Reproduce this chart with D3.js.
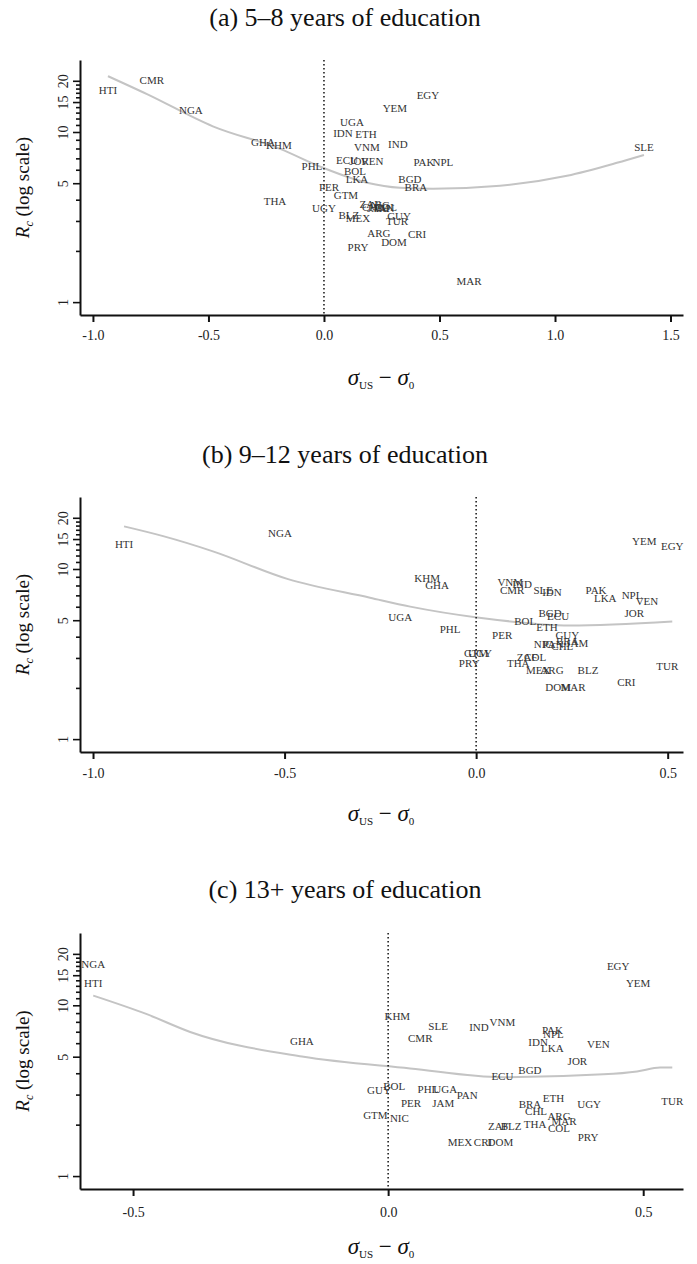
<!DOCTYPE html>
<html><head><meta charset="utf-8">
<script src="https://cdn.jsdelivr.net/npm/d3@7"></script>
<style>body{margin:0;background:#fff}</style>
</head><body>
<svg id="chart" width="697" height="1264"></svg>
<script>
// ---------- DATA ----------
const titles = ["(a) 5\u20138 years of education", "(b) 9\u201312 years of education", "(c) 13+ years of education"];

const codesA = ["HTI","CMR","NGA","GHA","KHM","THA","PHL","PER","GTM","UGY","BLZ","MEX","ARG","PRY","UGA","IDN","ETH","VNM","ECU","JOR","VEN","BOL","LKA","YEM","EGY","IND","PAK","NPL","BGD","BRA","SLE","MAR","CRI","DOM","GUY","TUR","ZAF","CHL","NIC","PAN","COL","JAM"];
const xA = [-0.935,-0.745,-0.576,-0.264,-0.195,-0.212,-0.052,0.022,0.095,0.0,0.108,0.147,0.238,0.147,0.121,0.082,0.182,0.186,0.100,0.152,0.208,0.134,0.143,0.307,0.450,0.320,0.433,0.515,0.372,0.398,1.385,0.628,0.403,0.303,0.325,0.316,0.199,0.212,0.242,0.260,0.268,0.234];
const yA = [17.6,20.1,13.4,8.74,8.40,3.90,6.32,4.77,4.28,3.55,3.23,3.10,2.53,2.10,11.4,9.87,9.73,8.17,6.86,6.77,6.77,5.91,5.31,13.8,16.5,8.51,6.68,6.68,5.31,4.77,8.17,1.33,2.50,2.24,3.18,2.98,3.79,3.64,3.74,3.59,3.64,3.59];
const curveXA = [-0.935,-0.766,-0.481,-0.190,-0.004,0.186,0.329,0.472,0.762,1.052,1.268,1.385];
const curveYA = [21.3,16.7,10.8,7.96,6.16,5.03,4.70,4.64,4.83,5.53,6.59,7.33];

const codesB = ["HTI","NGA","UGA","KHM","GHA","PHL","VNM","IND","CMR","SLE","IDN","PAK","LKA","NPL","VEN","YEM","EGY","JOR","BGD","ECU","BOL","ETH","PER","GUY","NIC","PAN","CHL","BRA","JAM","GTM","UGY","PRY","ZAF","COL","THA","MEX","ARG","BLZ","TUR","DOM","MAR","CRI"];
const xB = [-0.919,-0.512,-0.198,-0.128,-0.102,-0.068,0.089,0.120,0.094,0.175,0.198,0.313,0.337,0.407,0.446,0.439,0.512,0.413,0.193,0.214,0.128,0.185,0.068,0.238,0.175,0.201,0.225,0.238,0.264,0.0,0.010,-0.018,0.133,0.154,0.110,0.162,0.198,0.292,0.499,0.214,0.253,0.392];
const yB = [14.0,16.2,5.19,8.87,8.07,4.42,8.40,8.18,7.55,7.55,7.35,7.55,6.78,7.06,6.43,14.5,13.6,5.48,5.48,5.26,4.92,4.54,4.08,4.08,3.61,3.61,3.52,3.76,3.66,3.20,3.20,2.80,3.04,3.04,2.80,2.55,2.55,2.55,2.69,2.03,2.01,2.17];
const curveXB = [-0.919,-0.817,-0.687,-0.493,-0.277,-0.172,0.003,0.245,0.512];
const curveYB = [17.8,15.6,12.7,8.75,6.78,6.01,5.19,4.66,4.92];

const codesC = ["NGA","HTI","GHA","KHM","GUY","BOL","GTM","NIC","EGY","YEM","SLE","CMR","IND","VNM","PAK","NPL","IDN","LKA","VEN","JOR","BGD","ECU","PHL","UGA","PAN","PER","JAM","ETH","BRA","CHL","UGY","TUR","ARG","MAR","THA","COL","ZAF","BLZ","PRY","MEX","CRI","DOM"];
const xC = [-0.578,-0.578,-0.169,0.018,-0.018,0.012,-0.025,0.022,0.451,0.490,0.098,0.063,0.178,0.224,0.322,0.324,0.294,0.322,0.412,0.371,0.278,0.224,0.078,0.112,0.155,0.045,0.108,0.324,0.278,0.290,0.394,0.557,0.335,0.345,0.288,0.335,0.216,0.241,0.392,0.141,0.186,0.220];
const yC = [17.5,13.4,6.19,8.64,3.18,3.36,2.28,2.19,17.0,13.4,7.56,6.45,7.46,7.97,7.17,6.80,6.11,5.64,5.95,4.68,4.15,3.84,3.23,3.23,2.98,2.68,2.68,2.86,2.64,2.41,2.64,2.75,2.25,2.11,2.02,1.92,1.95,1.95,1.70,1.57,1.57,1.57];
const curveXC = [-0.578,-0.473,-0.388,-0.169,0.043,0.224,0.422,0.488,0.533,0.557];
const curveYC = [11.4,8.87,6.98,5.01,4.27,3.79,3.94,4.10,4.32,4.32];

const xTicksA = [-1.0,-0.5,0.0,0.5,1.0,1.5];
const xTicksB = [-1.0,-0.5,0.0,0.5];
const xTicksC = [-0.5,0.0,0.5];
const yTicksMajor = [1,5,10,15,20];
const yTicksMinor = [2,3,4,6,7,8,9,11,12,13,14,16,17,18,19];

// ---------- LAYOUT ----------
const panels = [
  {title: titles[0], codes: codesA, xs: xA, ys: yA, cx: curveXA, cy: curveYA, xt: xTicksA, xlim: [-1.056, 1.554], top: 60, bottom: 315, titleY: 26, xtitleY: 385, pad: 8},
  {title: titles[1], codes: codesB, xs: xB, ys: yB, cx: curveXB, cy: curveYB, xt: xTicksB, xlim: [-1.034, 0.540], top: 497, bottom: 752, titleY: 463, xtitleY: 821, pad: 9},
  {title: titles[2], codes: codesC, xs: xC, ys: yC, cx: curveXC, cy: curveYC, xt: xTicksC, xlim: [-0.604, 0.578], top: 933, bottom: 1189, titleY: 898, xtitleY: 1254, pad: 11}
];
const left = 80, right = 683;
const serif = "'Liberation Serif','Times New Roman',serif";
const svg = d3.select("#chart");

panels.forEach(p => {
  const g = svg.append("g");
  const x = d3.scaleLinear().domain(p.xlim).range([left, right]);
  const y = d3.scaleLog().domain([0.84, 26.5]).range([p.bottom, p.top]);

  // title
  g.append("text").attr("x", 345).attr("y", p.titleY)
    .attr("text-anchor", "middle").attr("font-family", serif)
    .attr("font-size", 26).attr("fill", "#111").text(p.title);

  // smooth curve
  const pts = p.cx.map((v, i) => [v, p.cy[i]]);
  g.append("path").datum(pts)
    .attr("d", d3.line().x(d => x(d[0])).y(d => y(d[1])).curve(d3.curveMonotoneX))
    .attr("fill", "none").attr("stroke", "#c4c4c4").attr("stroke-width", 2);

  // dotted zero line
  g.append("line").attr("x1", x(0)).attr("x2", x(0))
    .attr("y1", p.top).attr("y2", p.bottom)
    .attr("stroke", "#000").attr("stroke-width", 1.4).attr("stroke-dasharray", "1.4,2.6");

  // country labels
  g.append("g").selectAll("text").data(p.codes).join("text")
    .attr("x", (d, i) => x(p.xs[i])).attr("y", (d, i) => y(p.ys[i]))
    .attr("dy", "0.35em").attr("text-anchor", "middle")
    .attr("font-family", serif).attr("font-size", 11).attr("fill", "#333")
    .text(d => d);

  // x axis
  const xa = g.append("g").attr("transform", `translate(0,${p.bottom})`)
    .call(d3.axisBottom(x).tickValues(p.xt).tickFormat(d => d.toFixed(1)).tickSize(7).tickSizeOuter(0).tickPadding(p.pad));
  xa.select(".domain").attr("stroke-width", 2).attr("stroke", "#111");
  xa.selectAll(".tick line").attr("stroke-width", 2).attr("stroke", "#111");
  xa.selectAll(".tick text").attr("font-family", serif).attr("font-size", 14).attr("fill", "#222");

  // y axis minor
  const ym = g.append("g").attr("transform", `translate(${left},0)`)
    .call(d3.axisLeft(y).tickValues(yTicksMinor).tickFormat("").tickSize(4).tickSizeOuter(0));
  ym.select(".domain").remove();
  ym.selectAll(".tick line").attr("stroke-width", 1.6).attr("stroke", "#111");
  // y axis major
  const ya = g.append("g").attr("transform", `translate(${left},0)`)
    .call(d3.axisLeft(y).tickValues(yTicksMajor).tickFormat(d3.format("d")).tickSize(7).tickSizeOuter(0));
  ya.select(".domain").attr("stroke-width", 2).attr("stroke", "#111");
  ya.selectAll(".tick line").attr("stroke-width", 1.6).attr("stroke", "#111");
  ya.selectAll(".tick text").attr("font-family", serif).attr("font-size", 14).attr("fill", "#222")
    .attr("x", 0).attr("dy", 0).attr("text-anchor", "middle")
    .attr("transform", "translate(-12,0) rotate(-90)");

  // y title
  const yt = g.append("text").attr("font-family", serif).attr("font-size", 19).attr("fill", "#111")
    .attr("text-anchor", "middle")
    .attr("transform", `translate(29,${(p.top + p.bottom) / 2}) rotate(-90)`);
  yt.append("tspan").attr("font-style", "italic").text("R");
  yt.append("tspan").attr("font-style", "italic").attr("font-size", 12).attr("dy", 4).text("c");
  yt.append("tspan").attr("dy", -4).text(" (log scale)");

  // x title
  const xtt = g.append("text").attr("font-family", serif).attr("font-size", 23).attr("fill", "#111")
    .attr("text-anchor", "middle")
    .attr("x", 381).attr("y", p.xtitleY);
  xtt.append("tspan").attr("font-style", "italic").text("\u03c3");
  xtt.append("tspan").attr("font-size", 11).attr("dy", 3.5).text("US");
  xtt.append("tspan").attr("dy", -3.5).text(" \u2212 ");
  xtt.append("tspan").attr("font-style", "italic").text("\u03c3");
  xtt.append("tspan").attr("font-size", 11).attr("dy", 3.5).text("0");
});
</script>
</body></html>
